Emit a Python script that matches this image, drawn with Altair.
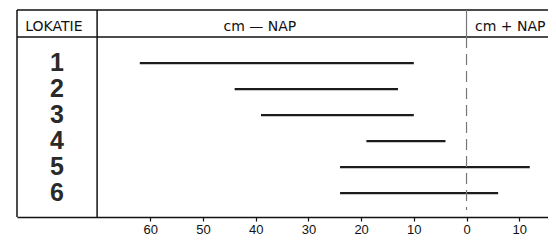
import altair as alt
import pandas as pd

# ---- data ----
locations = ["1", "2", "3", "4", "5", "6"]
rows = [1, 2, 3, 4, 5, 6]
low_cm = [-62, -44, -39, -19, -24, -24]    # lower end (cm relative to NAP)
high_cm = [-10, -13, -10, -4, 12, 6]       # upper end (cm relative to NAP)
tick_values = [-60, -50, -40, -30, -20, -10, 0, 10]
header_texts = ["LOKATIE", "cm \u2014 NAP", "cm + NAP"]
header_x = [-78.3, -39.2, 8.3]

# ---- layout (scale units) ----
X_MIN, X_MAX = -85.3, 15.46
SEP = -70.1
NUM_X = -77.7
Y_TOP, Y_HEAD, Y_BOT = -1.04, 0.0, 6.92
Y_DASH_END = 6.65

ranges = pd.DataFrame({"loc": locations, "row": rows, "low": low_cm, "high": high_cm,
                       "num_x": [NUM_X] * 6})
headers = pd.DataFrame({"text": header_texts, "x": header_x, "y": [-0.4] * 3})
hlines = pd.DataFrame({"x": [X_MIN, X_MIN], "x2": [X_MAX, X_MAX], "y": [Y_TOP, Y_HEAD]})
vlines = pd.DataFrame({"x": [X_MIN, SEP], "y": [Y_TOP, Y_TOP], "y2": [Y_BOT, Y_BOT]})
zero_head = pd.DataFrame({"x": [0], "y": [Y_TOP], "y2": [Y_HEAD]})
zero_dash = pd.DataFrame({"x": [0], "y": [Y_HEAD], "y2": [Y_DASH_END]})

xs = alt.Scale(domain=[X_MIN, X_MAX], nice=False, zero=False)
ys = alt.Scale(domain=[Y_TOP, Y_BOT], nice=False, zero=False, reverse=True)

xaxis = alt.Axis(values=tick_values, labelExpr="abs(datum.value)", title=None,
                 grid=False, domain=True, domainColor="#111", domainWidth=1.6,
                 tickColor="#111", tickSize=4, tickWidth=1.2, labelFontSize=13,
                 labelColor="#111", labelFont="Liberation Sans", labelPadding=2,
                 labelFlush=False)


def X(field):
    return alt.X(field, scale=xs, axis=xaxis)


def Y(field):
    return alt.Y(field, scale=ys, axis=None)


ranges_layer = alt.Chart(ranges).mark_rule(strokeWidth=2.3, color="#1c1c1c").encode(
    x=X("low:Q"), x2="high:Q", y=Y("row:Q"))

h = alt.Chart(hlines).mark_rule(color="#111", strokeWidth=1.5).encode(
    x=X("x:Q"), x2="x2:Q", y=Y("y:Q"))
v = alt.Chart(vlines).mark_rule(color="#111", strokeWidth=1.5).encode(
    x=X("x:Q"), y=Y("y:Q"), y2="y2:Q")
zh = alt.Chart(zero_head).mark_rule(color="#777", strokeWidth=1.2).encode(
    x=X("x:Q"), y=Y("y:Q"), y2="y2:Q")
zd = alt.Chart(zero_dash).mark_rule(color="#777", strokeWidth=1.2, strokeDash=[11, 6]).encode(
    x=X("x:Q"), y=Y("y:Q"), y2="y2:Q")

head_txt = alt.Chart(headers).mark_text(font="DejaVu Sans", fontSize=14, color="#111",
                                        baseline="middle", align="center").encode(
    x=X("x:Q"), y=Y("y:Q"), text="text:N")

nums = alt.Chart(ranges).mark_text(font="Liberation Sans", fontSize=25, fontWeight="bold",
                                   color="#2a2a2a", baseline="middle", align="center").encode(
    x=X("num_x:Q"), y=Y("row:Q"), text="loc:N")

chart = alt.layer(ranges_layer, h, v, zh, zd, head_txt, nums).properties(
    width=531, height=207,
    padding={"left": 9, "top": 2, "right": 0, "bottom": 20},
    autosize=alt.AutoSizeParams(type="none"),
    background="#ffffff",
).configure_view(stroke=None)

chart.save("out.html", embed_options={"renderer": "svg", "actions": False})
